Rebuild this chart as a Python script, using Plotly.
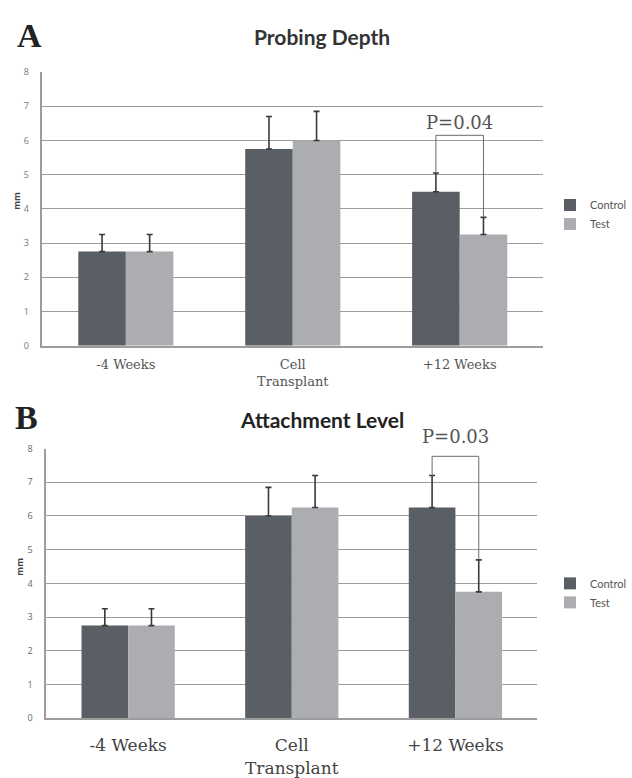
import plotly.graph_objects as go

# ---- data -------------------------------------------------------------
categories = ["-4 Weeks", "Cell<br>Transplant", "+12 Weeks"]
series_names = ["Control", "Test"]

# Panel A: probing depth (mm), mean and upper error
pd_control = [2.75, 5.75, 4.5]
pd_control_err = [0.5, 0.95, 0.55]
pd_test = [2.75, 6.0, 3.25]
pd_test_err = [0.5, 0.85, 0.5]

# Panel B: attachment level (mm), mean and upper error
al_control = [2.75, 6.0, 6.25]
al_control_err = [0.5, 0.85, 0.95]
al_test = [2.75, 6.25, 3.75]
al_test_err = [0.5, 0.95, 0.95]

y_ticks = [0, 1, 2, 3, 4, 5, 6, 7, 8]
y_max = 8
p_labels = ["P=0.04", "P=0.03"]
p_bracket_top = [6.15, 7.77]
p_category = 2

# ---- style ------------------------------------------------------------
W, H = 632, 778
DARK = "#5a5f65"
LIGHT = "#abadb0"
ERR = "#3a3a3a"
GRID = "#9c9c9c"
BARGAP = 0.43
half_offset = (1 - BARGAP) / 4  # distance from category centre to each bar centre
label_lift = [0, 7]             # px gap between bracket and its label

x_idx = list(range(len(categories)))


def px_x(p):
    return p / W


def px_y(p):
    return 1 - p / H


# plot-area pixel boxes (left, right, bottom, top) for each panel
boxes = [(43, 551, 349, 67), (47, 545, 733, 455)]

fig = go.Figure()

panels = [
    dict(ctrl=pd_control, ctrl_e=pd_control_err, test=pd_test, test_e=pd_test_err,
         xa="x", ya="y", legend="legend"),
    dict(ctrl=al_control, ctrl_e=al_control_err, test=al_test, test_e=al_test_err,
         xa="x2", ya="y2", legend="legend2"),
]

for pnl in panels:
    for name, vals, errs, col in [
        (series_names[0], pnl["ctrl"], pnl["ctrl_e"], DARK),
        (series_names[1], pnl["test"], pnl["test_e"], LIGHT),
    ]:
        fig.add_trace(go.Bar(
            x=x_idx, y=vals, name=name,
            marker=dict(color=col, line=dict(width=0)),
            error_y=dict(type="data", symmetric=False, array=errs,
                         arrayminus=[0] * len(errs), color=ERR,
                         thickness=1.6, width=3),
            xaxis=pnl["xa"], yaxis=pnl["ya"], legend=pnl["legend"],
        ))

# significance brackets
for i, pnl in enumerate(panels):
    xc = p_category - half_offset
    xt = p_category + half_offset
    yc = pnl["ctrl"][p_category] + pnl["ctrl_e"][p_category]
    yt = pnl["test"][p_category] + pnl["test_e"][p_category]
    top = p_bracket_top[i]
    line = dict(color="#6a6a6a", width=1)
    for (x0, y0, x1, y1) in [(xc, yc, xc, top), (xc, top, xt, top), (xt, top, xt, yt)]:
        fig.add_shape(type="line", x0=x0, y0=y0, x1=x1, y1=y1,
                      xref=pnl["xa"], yref=pnl["ya"], line=line, layer="above")
    fig.add_annotation(x=p_category, y=top, xref=pnl["xa"], yref=pnl["ya"],
                       yanchor="bottom", yshift=label_lift[i],
                       text=p_labels[i], showarrow=False,
                       font=dict(family="DejaVu Serif", size=18, color="#555555"))

axis_common = dict(showgrid=False, zeroline=False, ticks="", fixedrange=True)
yaxis_common = dict(range=[0, y_max], tickvals=y_ticks, showgrid=True, gridcolor=GRID,
                    gridwidth=1.4, zeroline=False, ticks="", showline=True,
                    linecolor=GRID, linewidth=1.5)

(a_l, a_r, a_b, a_t), (b_l, b_r, b_b, b_t) = boxes

fig.update_layout(
    width=W, height=H,
    margin=dict(l=0, r=0, t=0, b=0),
    paper_bgcolor="white", plot_bgcolor="white",
    barmode="group", bargap=BARGAP, bargroupgap=0,
    showlegend=True,
    xaxis=dict(domain=[px_x(a_l), px_x(a_r)], anchor="y", range=[-0.5, 2.5],
               tickvals=x_idx, ticktext=categories, showline=True,
               linecolor=GRID, linewidth=1.5, ticklabelstandoff=6,
               tickfont=dict(family="DejaVu Serif", size=13, color="#555555"),
               **axis_common),
    yaxis=dict(domain=[px_y(a_b), px_y(a_t)], anchor="x", ticklabelstandoff=10,
               tickfont=dict(family="Open Sans", size=9, color="#777777"),
               **yaxis_common),
    xaxis2=dict(domain=[px_x(b_l), px_x(b_r)], anchor="y2", range=[-0.5, 2.5],
                tickvals=x_idx, ticktext=categories, showline=True,
                linecolor=GRID, linewidth=1.5, ticklabelstandoff=11,
                tickfont=dict(family="DejaVu Serif", size=17, color="#444444"),
                **axis_common),
    yaxis2=dict(domain=[px_y(b_b), px_y(b_t)], anchor="x2", ticklabelstandoff=10,
                tickfont=dict(family="Open Sans", size=9, color="#666666"),
                **yaxis_common),
    legend=dict(x=px_x(558), y=px_y(189), xanchor="left", yanchor="top",
                font=dict(family="Lato", size=11, color="#555555"),
                bgcolor="rgba(0,0,0,0)", itemclick=False),
    legend2=dict(x=px_x(558), y=px_y(579), xanchor="left", yanchor="top",
                 font=dict(family="Lato", size=11, color="#555555"),
                 bgcolor="rgba(0,0,0,0)", itemclick=False),
)

# panel letters, titles and y-axis labels
texts = [
    ("A", 30, 29, dict(family="Liberation Serif", size=34, color="#222222", weight="bold"), 0),
    ("B", 27, 423, dict(family="Liberation Serif", size=34, color="#222222", weight="bold"), 0),
    ("Probing Depth", 327, 30, dict(family="Lato", size=21, color="#333333", weight="bold"), 0),
    ("Attachment Level", 327, 425, dict(family="Lato", size=21, color="#222222", weight="bold"), 0),
    ("mm", 16, 200, dict(family="Open Sans", size=9, color="#444444", weight="bold"), -90),
    ("mm", 20, 577, dict(family="Open Sans", size=9, color="#444444", weight="bold"), -90),
]
for txt, x, y, font, ang in texts:
    fig.add_annotation(x=px_x(x), y=px_y(y), xref="paper", yref="paper", text=txt,
                       showarrow=False, font=font, textangle=ang,
                       xanchor="center", yanchor="middle")

fig.write_html("out.html")
